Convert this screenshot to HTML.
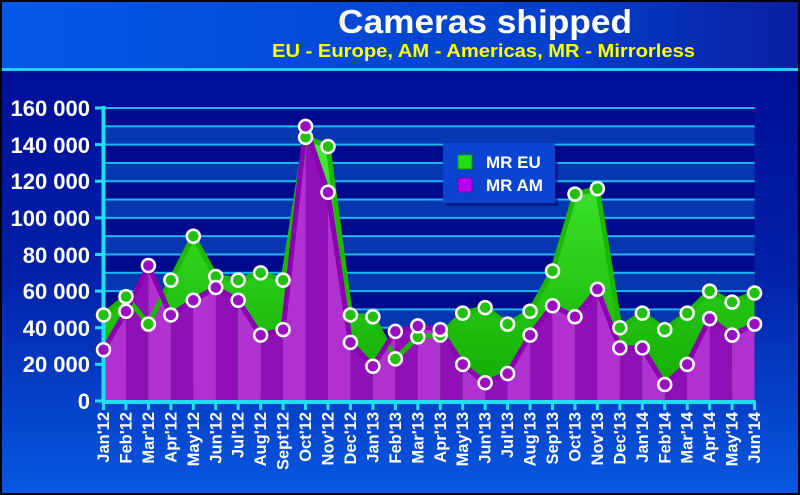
<!DOCTYPE html>
<html><head><meta charset="utf-8"><style>
html,body{margin:0;padding:0;background:#000;}
svg{display:block;font-family:"Liberation Sans",Arial,sans-serif;}
</style></head><body>
<svg id="s" width="800" height="495" viewBox="0 0 800 495" xmlns="http://www.w3.org/2000/svg">
<defs>
<linearGradient id="hdr" x1="0" y1="0" x2="1" y2="0"><stop offset="0" stop-color="#0458e8"/><stop offset="0.7" stop-color="#0440cc"/><stop offset="1" stop-color="#0a1ea0"/></linearGradient>
<linearGradient id="bg" x1="0" y1="0" x2="0" y2="1"><stop offset="0" stop-color="#000890"/><stop offset="0.55" stop-color="#0220a8"/><stop offset="1" stop-color="#0858e0"/></linearGradient>
<linearGradient id="gfill" x1="0" y1="0" x2="0" y2="1"><stop offset="0" stop-color="#44ee33"/><stop offset="1" stop-color="#11aa00"/></linearGradient>
<clipPath id="amclip"><polygon id="amPoly"/></clipPath>
</defs>
<rect x="0" y="0" width="800" height="495" fill="#000"/>
<rect x="2" y="2" width="796" height="491" fill="url(#bg)"/>
<rect x="2" y="2" width="796" height="66" fill="url(#hdr)"/>
<rect x="2" y="68" width="796" height="3" fill="#20d0f0"/>
<text x="338" y="33" fill="#fff" font-size="33" font-weight="bold" textLength="294" lengthAdjust="spacingAndGlyphs">Cameras shipped</text>
<text x="272" y="57" fill="#ffff00" font-size="18" font-weight="bold" textLength="423" lengthAdjust="spacingAndGlyphs">EU - Europe, AM - Americas, MR - Mirrorless</text>
<g id="bands"></g>
<g id="series"></g>
<g font-size="22" font-weight="bold" fill="#fff" text-anchor="end">
<text x="90" y="409">0</text>
<text x="90" y="372">20 000</text>
<text x="90" y="336">40 000</text>
<text x="90" y="299">60 000</text>
<text x="90" y="263">80 000</text>
<text x="90" y="226">100 000</text>
<text x="90" y="189">120 000</text>
<text x="90" y="153">140 000</text>
<text x="90" y="116">160 000</text>
</g>
<g font-size="16.5" font-weight="bold" fill="#fff" text-anchor="end">
<text transform="translate(109,412) rotate(-90)">Jan'12</text>
<text transform="translate(131.5,412) rotate(-90)">Feb'12</text>
<text transform="translate(153.9,412) rotate(-90)">Mar'12</text>
<text transform="translate(176.4,412) rotate(-90)">Apr'12</text>
<text transform="translate(198.8,412) rotate(-90)">May'12</text>
<text transform="translate(221.3,412) rotate(-90)">Jun'12</text>
<text transform="translate(243.7,412) rotate(-90)">Jul'12</text>
<text transform="translate(266.2,412) rotate(-90)">Aug'12</text>
<text transform="translate(288.6,412) rotate(-90)">Sept'12</text>
<text transform="translate(311.1,412) rotate(-90)">Oct'12</text>
<text transform="translate(333.5,412) rotate(-90)">Nov'12</text>
<text transform="translate(356,412) rotate(-90)">Dec'12</text>
<text transform="translate(378.4,412) rotate(-90)">Jan'13</text>
<text transform="translate(400.9,412) rotate(-90)">Feb'13</text>
<text transform="translate(423.3,412) rotate(-90)">Mar'13</text>
<text transform="translate(445.8,412) rotate(-90)">Apr'13</text>
<text transform="translate(468.2,412) rotate(-90)">May'13</text>
<text transform="translate(490.7,412) rotate(-90)">Jun'13</text>
<text transform="translate(513.1,412) rotate(-90)">Jul'13</text>
<text transform="translate(535.6,412) rotate(-90)">Aug'13</text>
<text transform="translate(558,412) rotate(-90)">Sep'13</text>
<text transform="translate(580.5,412) rotate(-90)">Oct'13</text>
<text transform="translate(602.9,412) rotate(-90)">Nov'13</text>
<text transform="translate(625.4,412) rotate(-90)">Dec'13</text>
<text transform="translate(647.8,412) rotate(-90)">Jan'14</text>
<text transform="translate(670.3,412) rotate(-90)">Feb'14</text>
<text transform="translate(692.7,412) rotate(-90)">Mar'14</text>
<text transform="translate(715.2,412) rotate(-90)">Apr'14</text>
<text transform="translate(737.6,412) rotate(-90)">May'14</text>
<text transform="translate(760.1,412) rotate(-90)">Jun'14</text>
</g>
<g id="legend">
<rect x="446" y="146" width="112" height="60" fill="#000060" opacity="0.5"/>
<rect x="443" y="143" width="112" height="60" fill="#0a44d0"/>
<rect x="458" y="155" width="14" height="14" fill="#22dd11" stroke="#119900" stroke-width="1"/>
<rect x="458" y="178" width="14" height="14" fill="#bb00ee" stroke="#7700aa" stroke-width="1"/>
<text x="486" y="168" fill="#fff" font-size="17" font-weight="bold">MR EU</text>
<text x="486" y="191" fill="#fff" font-size="17" font-weight="bold">MR AM</text>
</g>
</svg>
<script>
(function(){
var NS="http://www.w3.org/2000/svg";
function el(t,a,p){var e=document.createElementNS(NS,t);for(var k in a)e.setAttribute(k,a[k]);p.appendChild(e);return e;}
var eu=[47,57,42,66,90,68,66,70,66,144,139,47,46,23,35,36,48,51,42,49,71,113,116,40,48,39,48,60,54,59];
var am=[28,49,74,47,55,62,55,36,39,150,114,32,19,38,41,39,20,10,15,36,52,46,61,29,29,9,20,45,36,42];
function X(i){return 103.5+i*22.45;}
function Y(v){return 401-v*1.831;}
var bands=document.getElementById('bands');
for(var b=0;b<16;b++){var y0=108+b*18.31;
 el('rect',{x:103.5,y:y0,width:651,height:18.31,fill:(b%2==0)?'#000a8c':'#0636b0'},bands);}
for(var b=0;b<=16;b++){var y=108+b*18.31;el('rect',{x:103.5,y:y-1,width:651,height:2,fill:'#1ab8f0'},bands);}
var s=document.getElementById('series');
function pts(d){return d.map(function(v,i){return X(i).toFixed(1)+','+Y(v).toFixed(1);}).join(' ');}
var base=X(29).toFixed(1)+',401 '+X(0).toFixed(1)+',401';
el('polygon',{points:pts(eu)+' '+base,fill:'url(#gfill)'},s);
document.getElementById('amPoly').setAttribute('points',pts(am)+' '+base);
var g=el('g',{'clip-path':'url(#amclip)'},s);
for(var i=0;i<29;i++){el('rect',{x:X(i),y:100,width:22.45,height:302,fill:(i%2==0)?'#b030d0':'#9010b8'},g);}
el('polyline',{points:pts(eu),fill:'none',stroke:'#1cb800','stroke-width':5,'stroke-linejoin':'round'},s);
el('polyline',{points:pts(am),fill:'none',stroke:'#8a00b0','stroke-width':5,'stroke-linejoin':'round'},s);
el('rect',{x:101.5,y:106,width:4,height:298,fill:'#20e0f0'},s);
el('rect',{x:101.5,y:400,width:654,height:4,fill:'#20e0f0'},s);
for(var b=0;b<=16;b+=2){el('rect',{x:95,y:108+b*18.31-1.5,width:8,height:3,fill:'#20e0f0'},s);}
for(var i=0;i<30;i++){el('rect',{x:X(i)-1.5,y:402,width:3,height:8,fill:'#20e0f0'},s);}
for(var i=0;i<30;i++){el('circle',{cx:X(i),cy:Y(eu[i]),r:6.5,fill:'#22c010',stroke:'#fff','stroke-width':2.5},s);}
for(var i=0;i<30;i++){el('circle',{cx:X(i),cy:Y(am[i]),r:6.5,fill:'#9a10c0',stroke:'#fff','stroke-width':2.5},s);}
var lg=document.getElementById('legend');s.parentNode.appendChild(lg);
})();
</script>
</body></html>
